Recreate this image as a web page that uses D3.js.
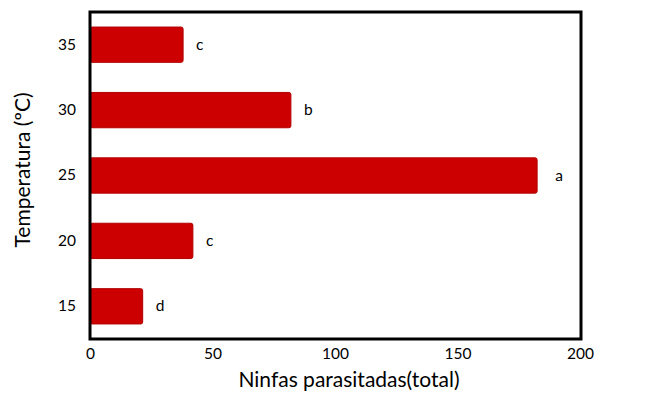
<!DOCTYPE html>
<html><head><meta charset="utf-8">
<script src="https://cdn.jsdelivr.net/npm/d3@7"></script>
<style>body{margin:0;background:#fff}</style>
</head><body>
<svg id="c" width="646" height="401"></svg>
<script>
const categories = ["15","20","25","30","35"];
const values = [21.5, 42, 182.5, 82, 38];
const letters = ["d","c","a","b","c"];
const xTicks = [0,50,100,150,200];

const svg = d3.select("#c");
const font = "Lato, 'Open Sans', sans-serif";
const L=90, R=581, T=12, B=339;
const x = d3.scaleLinear().domain([0,200]).range([L,580]);
const y = d3.scaleBand().domain(categories.slice().reverse()).range([T,B]).paddingInner(0.46).paddingOuter(0.23);

svg.append("g").selectAll("rect").data(categories).join("rect")
  .attr("x", x(0)).attr("y", d=>y(d)).attr("height", y.bandwidth())
  .attr("width", (d,i)=>x(values[i])-x(0))
  .attr("rx",2).attr("fill","#cc0000").attr("stroke","#b30000").attr("stroke-width",1);

svg.append("g").selectAll("text").data(categories).join("text")
  .attr("x",(d,i)=>x(values[i])+ (i==2?18:13)).attr("y", d=>y(d)+y.bandwidth()/2+5)
  .attr("font-family",font).attr("font-size",15.5).attr("fill","#000")
  .text((d,i)=>letters[i]);

svg.append("rect").attr("x",L).attr("y",T).attr("width",R-L).attr("height",B-T)
  .attr("fill","none").attr("stroke","#000").attr("stroke-width",3);

const xAxis = d3.axisBottom(x).tickValues(xTicks).tickSize(0).tickPadding(0);
const gx = svg.append("g").attr("transform",`translate(0,${B+15})`).call(xAxis);
gx.select(".domain").remove();
gx.selectAll("text").attr("font-family",font).attr("font-size",15.5).attr("fill","#000").attr("dy","0.35em");

const yAxis = d3.axisLeft(y).tickSize(0).tickPadding(14);
const gy = svg.append("g").attr("transform",`translate(${L},0)`).call(yAxis);
gy.select(".domain").remove();
gy.selectAll("text").attr("font-family",font).attr("font-size",15.5).attr("fill","#000");

svg.append("text").attr("x",349).attr("y",387).attr("text-anchor","middle")
  .attr("font-family",font).attr("font-size",21).text("Ninfas parasitadas(total)");
svg.append("text").attr("transform","translate(30,170) rotate(-90)").attr("text-anchor","middle")
  .attr("font-family",font).attr("font-size",21).text("Temperatura (ºC)");
</script>
</body></html>
